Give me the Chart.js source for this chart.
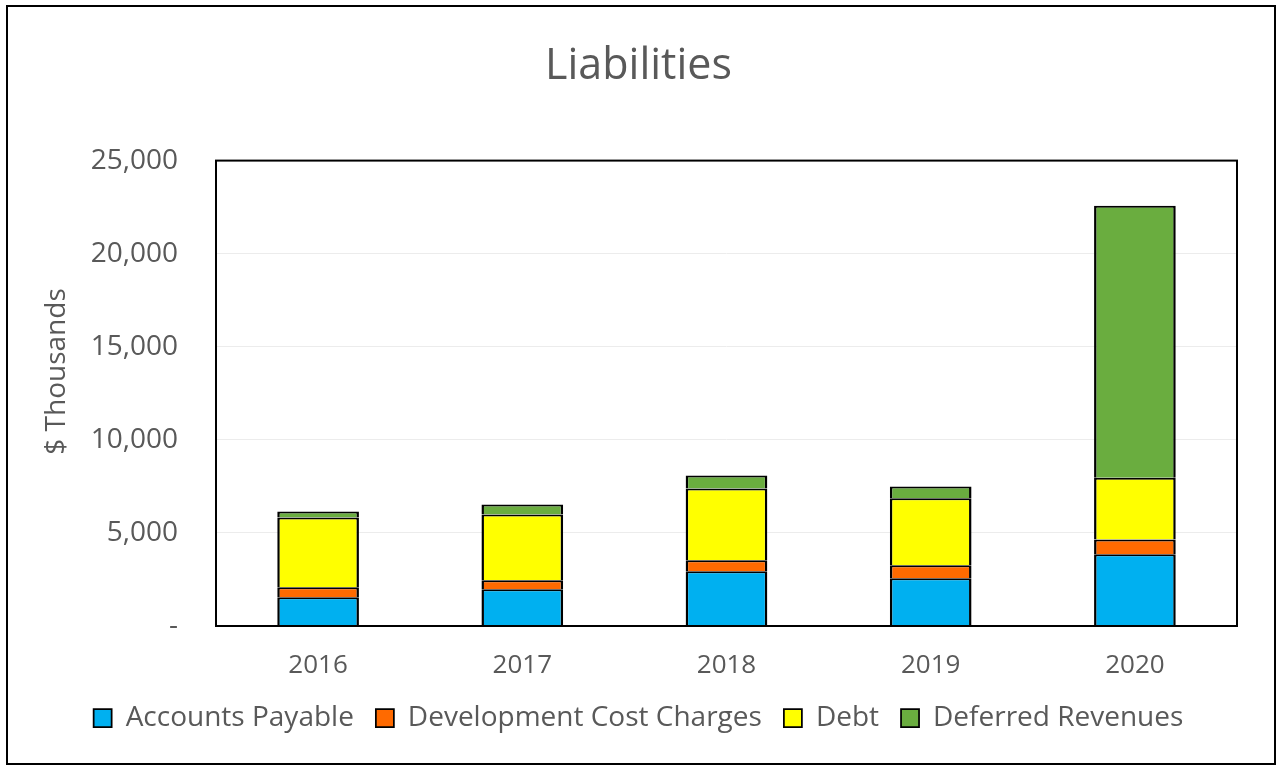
<!DOCTYPE html>
<html>
<head>
<meta charset="utf-8">
<script src="https://cdn.jsdelivr.net/npm/chart.js@4.4.1/dist/chart.umd.min.js"></script>
<style>
  html, body { margin: 0; padding: 0; background: #fff; }
  #wrap { position: relative; width: 1279px; height: 768px; }
  #frame { position: absolute; left: 6px; top: 5px; width: 1266px; height: 756px; border: 2px solid #000; pointer-events: none; }
  canvas { position: absolute; left: 0; top: 0; }
</style>
</head>
<body>
<div id="wrap">
  <canvas id="liabChart" width="1279" height="768"></canvas>
  <div id="frame"></div>
</div>
<script>
// Données ($ milliers)
const years = ['2016', '2017', '2018', '2019', '2020'];
const accountsPayable = [1550, 1980, 2940, 2570, 3850];
const devCostCharges = [530, 480, 590, 700, 800];
const debt = [3750, 3530, 3850, 3590, 3320];
const deferredRevenues = [320, 540, 700, 640, 14610];
const yTicks = [0, 5000, 10000, 15000, 20000, 25000];

const FONT = "'Open Sans', 'Noto Sans', sans-serif";
const GREY = '#595959';

// Cadre de la zone de tracé
const plotBorder = {
    id: 'plotBorder',
    afterDraw(chart) {
        const { ctx, chartArea: a } = chart;
        ctx.save();
        ctx.strokeStyle = '#000';
        ctx.lineWidth = 2;
        ctx.strokeRect(a.left, a.top, a.right - a.left, a.bottom - a.top);
        ctx.restore();
    }
};

function makeSet(label, data, color) {
    return {
        label: label,
        data: data,
        backgroundColor: color,
        borderColor: '#000',
        borderWidth: { top: 2, bottom: 0, left: 2.5, right: 2.5 },
        borderSkipped: false,
        categoryPercentage: 1,
        barPercentage: 0.4
    };
}

new Chart(document.getElementById('liabChart'), {
    type: 'bar',
    data: {
        labels: years,
        datasets: [
            makeSet('Accounts Payable', accountsPayable, '#00B0F0'),
            makeSet('Development Cost Charges', devCostCharges, '#FF6A00'),
            makeSet('Debt', debt, '#FFFF00'),
            makeSet('Deferred Revenues', deferredRevenues, '#6AAD3F')
        ]
    },
    options: {
        responsive: false,
        animation: false,
        layout: { padding: { left: 40, right: 42, top: 0, bottom: 26 } },
        plugins: {
            title: {
                display: true,
                text: 'Liabilities',
                color: GREY,
                font: { family: FONT, size: 43, weight: 'normal' },
                padding: { top: 41, bottom: 68 }
            },
            legend: {
                position: 'bottom',
                labels: {
                    color: GREY,
                    font: { family: FONT, size: 28 },
                    boxWidth: 18,
                    boxHeight: 18,
                    padding: 22
                }
            },
            tooltip: { enabled: false }
        },
        scales: {
            x: {
                stacked: true,
                grid: { display: false, drawTicks: false },
                border: { display: false },
                ticks: { color: GREY, font: { family: FONT, size: 26 }, padding: 24 },
                afterFit(scale) { scale.height = 56; }
            },
            y: {
                stacked: true,
                min: 0,
                max: 25000,
                afterBuildTicks(scale) { scale.ticks = yTicks.map(v => ({ value: v })); },
                grid: { color: '#ececec', drawTicks: false },
                border: { display: false },
                ticks: {
                    color: GREY,
                    font: { family: FONT, size: 28 },
                    padding: 38,
                    callback: v => v === 0 ? '-' : v.toLocaleString('en-US')
                },
                title: {
                    display: true,
                    text: '\u00a0\u00a0\u00a0\u00a0\u00a0\u00a0$ Thousands',
                    color: GREY,
                    font: { family: FONT, size: 28 },
                    padding: 0
                },
                afterFit(scale) { scale.width = 176; }
            }
        }
    },
    plugins: [plotBorder]
});
</script>
</body>
</html>
